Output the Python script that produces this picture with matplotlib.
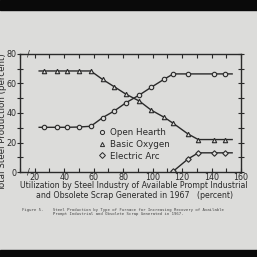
import matplotlib
matplotlib.use("Agg")
import matplotlib.pyplot as plt
from matplotlib.lines import Line2D
from matplotlib.patches import Rectangle

# Data (percent of total steel production)
x_open_hearth = [23, 26, 35, 42, 50, 58, 66, 74, 82, 91, 99, 108, 114, 124, 142, 149, 154]
y_open_hearth = [30.3, 30.3, 30.3, 30.3, 30.5, 31, 36.8, 41.4, 47, 52.2, 57.4, 63, 66.5, 66.5, 66.5, 66.5, 66.5]

x_basic_oxygen = [23, 26, 35, 42, 50, 58, 66, 74, 82, 91, 99, 108, 114, 124, 131, 142, 149, 154]
y_basic_oxygen = [68.5, 68.5, 68.5, 68.5, 68.5, 68.5, 62.8, 57.8, 52.7, 48.1, 42, 37, 33, 25.8, 22, 22, 22, 22]

x_electric_arc = [114, 124, 131, 142, 149, 154]
y_electric_arc = [0.5, 8.8, 13, 13, 13, 13]

series_labels = ["Open Hearth", "Basic Oxygen", "Electric Arc"]

paper = "#dcdcda"
ink = "#2a2a2a"

fig = plt.figure(figsize=(2.57, 2.57), dpi=100, facecolor=paper)
ax = fig.add_axes([20 / 257, 1 - 172 / 257, 221 / 257, 118 / 257])
ax.set_facecolor(paper)

# dark film border at top and bottom of the scan
fig.patches.append(Rectangle((0, 1 - 10 / 257), 1, 10 / 257, transform=fig.transFigure,
                             color="#0a0a0a", zorder=-1))
fig.patches.append(Rectangle((0, 0), 1, 7 / 257, transform=fig.transFigure,
                             color="#0a0a0a", zorder=-1))

style = dict(color=ink, lw=1.0, ms=3.2, mfc=paper, mec=ink, mew=0.8, markevery=slice(1, -1))
ax.plot(x_open_hearth, y_open_hearth, marker="o", **style)
ax.plot(x_basic_oxygen, y_basic_oxygen, marker="^", **style)
ax.plot(x_electric_arc, y_electric_arc, marker="D", color=ink, lw=1.0, ms=2.8, mfc=paper,
        mec=ink, mew=0.8, markevery=slice(0, -1))

ax.set_xlim(10, 160)
ax.set_ylim(0, 80)
ax.set_xticks([20, 40, 60, 80, 100, 120, 140, 160])
ax.set_xticks(range(10, 160, 10), minor=True)
ax.set_yticks([0, 20, 40, 60, 80])
ax.set_yticks(range(10, 80, 10), minor=True)
ax.tick_params(axis="x", which="both", direction="in", top=True, length=3, width=0.8,
               colors=ink, labelsize=5.8, pad=0.5)
ax.tick_params(axis="y", which="both", direction="inout", right=True, length=4, width=0.8,
               colors=ink, labelsize=5.8, pad=0.5)
for s in ax.spines.values():
    s.set_color(ink)
    s.set_linewidth(1.0)

# axis break marks
ax.text(0.04, 0.0, "/", transform=ax.transAxes, ha="center", va="center", fontsize=6, color=ink)
ax.text(0.04, 1.0, "/", transform=ax.transAxes, ha="center", va="center", fontsize=6, color=ink)

handles = [Line2D([], [], ls="none", marker=m, ms=3, mfc=paper, mec=ink, mew=0.7)
           for m in ["o", "^", "D"]]
ax.legend(handles, series_labels, loc="upper left", bbox_to_anchor=(0.34, 0.4), frameon=False,
          fontsize=6.3, handlelength=0.8, handletextpad=0.5, labelspacing=0.3,
          borderaxespad=0, labelcolor=ink)

fig.text(134 / 257, 1 - 190.5 / 257,
         "Utilization by Steel Industry of Available Prompt Industrial\n"
         "and Obsolete Scrap Generated in 1967   (percent)",
         ha="center", va="center", fontsize=5.7, color=ink, linespacing=1.0)
fig.text(2.5 / 257, 1 - 122 / 257, "Total Steel Production (percent)", rotation=90,
         ha="center", va="center", fontsize=6.3, color=ink)

fig.text(22 / 257, 1 - 212 / 257,
         "Figure 5.    Steel Production by Type of Furnace for Increasing Recovery of Available\n"
         "             Prompt Industrial and Obsolete Scrap Generated in 1967.",
         ha="left", va="center", fontsize=2.9, family="DejaVu Sans Mono", color="#444444")

fig.savefig("out.png", dpi=100, facecolor=paper)
